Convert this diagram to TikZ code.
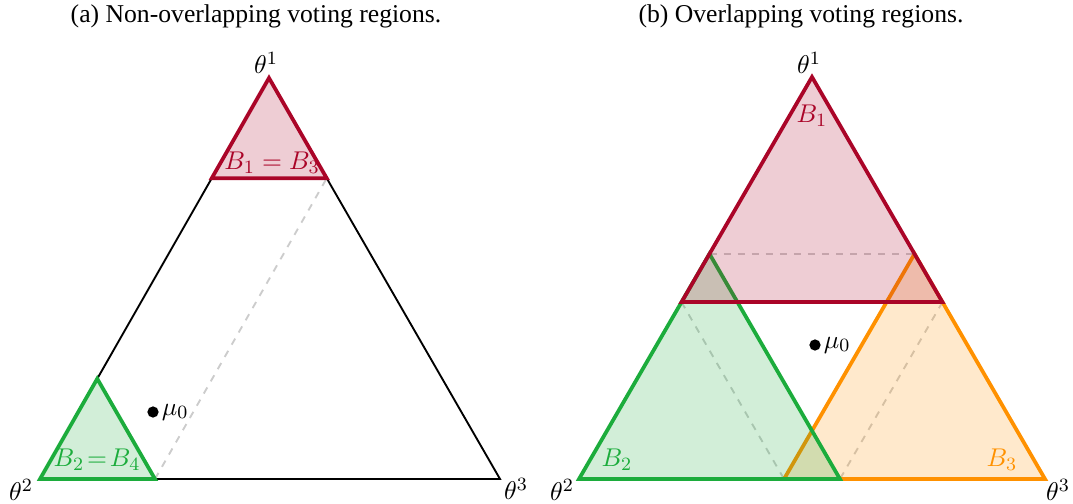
\documentclass[tikz,border=0pt,11pt]{standalone}
\usepackage{fontspec}
\setmainfont{Liberation Serif}
\usetikzlibrary{calc}

\definecolor{regred}{RGB}{170,5,40}
\definecolor{reggreen}{RGB}{28,172,60}
\definecolor{regorange}{RGB}{255,145,0}

\tikzset{
  simplex/.style={draw=black, thick, line join=miter},
  region/.style={draw=#1, fill=#1, fill opacity=0.2, draw opacity=1,
                 line width=1.6pt, line join=miter},
  guide/.style={draw=gray!40, dashed, thick},
  meandot/.style={circle, fill=black, inner sep=0pt, minimum size=4.8pt},
}

\begin{document}
\begin{tikzpicture}[x=0.015cm,y=-0.015cm]
  \useasboundingbox (0,0) rectangle (1073,504);

  % (a) non-overlapping
  \coordinate (a1) at (269,78);
  \coordinate (a2) at (40,479);
  \coordinate (a3) at (500,479);
  \coordinate (a12) at ($(a1)!0.25!(a2)$);
  \coordinate (a13) at ($(a1)!0.25!(a3)$);
  \coordinate (a21) at ($(a2)!0.25!(a1)$);
  \coordinate (a23) at ($(a2)!0.25!(a3)$);
  \draw[simplex] (a1) -- (a2) -- (a3) -- cycle;
  \draw[guide] (a23) -- (a13);
  \draw[region=reggreen] (a2) -- (a23) -- (a21) -- cycle;
  \draw[region=regred] (a1) -- (a12) -- (a13) -- cycle;
  \node[text=regred] (lab13) at (272,163) {$B_1 = B_3$};
  \node[text=reggreen] (lab24) at (97,460) {$B_2\!=\!B_4$};
  \node[meandot] (mua) at (153,412) {};
  \node[anchor=west, inner sep=1pt] (mualab) at (mua.east) {$\mu_0$};
  \node (ta1) at (266,63) {$\theta^1$};
  \node (ta2) at (21,490) {$\theta^2$};
  \node (ta3) at (516,489) {$\theta^3$};
  \node (capa) at (256,16) {(a) Non-overlapping voting regions.};

  % (b) overlapping
  \coordinate (b1) at (812,77);
  \coordinate (b2) at (579,479);
  \coordinate (b3) at (1045,479);
  \coordinate (b12) at ($(b1)!0.56!(b2)$);
  \coordinate (b13) at ($(b1)!0.56!(b3)$);
  \coordinate (b21) at ($(b2)!0.56!(b1)$);
  \coordinate (b23) at ($(b2)!0.56!(b3)$);
  \coordinate (b31) at ($(b3)!0.56!(b1)$);
  \coordinate (b32) at ($(b3)!0.56!(b2)$);
  \draw[simplex] (b1) -- (b2) -- (b3) -- cycle;
  \draw[guide] (b21) -- (b31);
  \draw[guide] (b12) -- (b32);
  \draw[guide] (b13) -- (b23);
  \draw[region=regorange] (b3) -- (b32) -- (b31) -- cycle;
  \draw[region=reggreen] (b2) -- (b23) -- (b21) -- cycle;
  \draw[region=regred] (b1) -- (b12) -- (b13) -- cycle;
  \node[text=regred] (lab1) at (812,116) {$B_1$};
  \node[text=reggreen] (lab2) at (617,460) {$B_2$};
  \node[text=regorange] (lab3) at (1002,460) {$B_3$};
  \node[meandot] (mub) at (815,345) {};
  \node[anchor=west, inner sep=1pt] (mublab) at (mub.east) {$\mu_0$};
  \node (tb1) at (809,63) {$\theta^1$};
  \node (tb2) at (562,490) {$\theta^2$};
  \node (tb3) at (1058,490) {$\theta^3$};
  \node (capb) at (801,16) {(b) Overlapping voting regions.};
\end{tikzpicture}
\end{document}
